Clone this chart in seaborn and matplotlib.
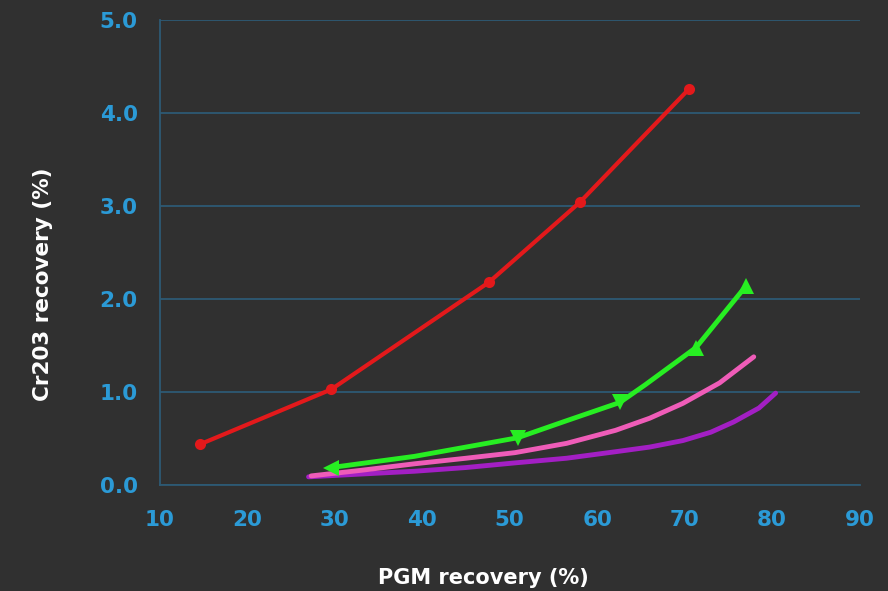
import numpy as np
import pandas as pd
import matplotlib
matplotlib.use("Agg")
import matplotlib.pyplot as plt
import seaborn as sns

# values
red_x = [14.6, 29.6, 47.6, 58.0, 70.5]
red_y = [0.44, 1.03, 2.18, 3.04, 4.26]

green_x = [29.6, 39.1, 50.9, 56.4, 62.6, 65.5, 71.3, 77.0]
green_y = [0.19, 0.31, 0.51, 0.69, 0.89, 1.08, 1.48, 2.14]
green_mark_x = [29.6, 50.9, 62.6, 71.3, 77.0]
green_mark_y = [0.19, 0.51, 0.89, 1.48, 2.14]
green_marks = ['<', 'v', 'v', '^', '^']

pink_x = [27.3, 33.0, 39.1, 45.0, 50.6, 56.5, 62.1, 66.0, 69.8, 74.0, 77.9]
pink_y = [0.10, 0.16, 0.23, 0.29, 0.35, 0.45, 0.59, 0.72, 0.88, 1.10, 1.38]

purple_x = [27.0, 33.0, 39.1, 45.0, 50.6, 56.5, 62.1, 66.0, 69.8, 73.0, 75.6, 78.5, 80.4]
purple_y = [0.09, 0.12, 0.15, 0.19, 0.24, 0.29, 0.36, 0.41, 0.48, 0.57, 0.68, 0.83, 0.99]

x_ticks = [10, 20, 30, 40, 50, 60, 70, 80, 90]
y_ticks = [0.0, 1.0, 2.0, 3.0, 4.0, 5.0]

bg = '#303030'
tick_blue = '#2b9ad6'
grid_blue = '#2d5a74'

sns.set_style("dark")
plt.rcParams['font.family'] = ['DejaVu Sans']

fig = plt.figure(figsize=(8.88, 5.91), dpi=100, facecolor=bg)
ax = fig.add_axes([0.180, 0.179, 0.788, 0.787])
ax.set_facecolor(bg)

sns.lineplot(x=red_x, y=red_y, ax=ax, color='#e3191b', linewidth=3, sort=False,
             marker='o', markersize=8, markeredgewidth=0)
sns.lineplot(x=purple_x, y=purple_y, ax=ax, color='#a31fc4', linewidth=3.5, sort=False)
sns.lineplot(x=pink_x, y=pink_y, ax=ax, color='#ef5cb8', linewidth=3.5, sort=False)
sns.lineplot(x=green_x, y=green_y, ax=ax, color='#27ee22', linewidth=3.5, sort=False)
for mx, my, mk in zip(green_mark_x, green_mark_y, green_marks):
    ax.plot(mx, my, marker=mk, color='#27ee22', markersize=12, markeredgewidth=0)

ax.set_xlim(10, 90)
ax.set_ylim(0, 5)
ax.set_xticks(x_ticks)
ax.set_yticks(y_ticks)
ax.set_xticklabels([str(t) for t in x_ticks])
ax.set_yticklabels([f"{t:.1f}" for t in y_ticks])

ax.grid(False)
ax.yaxis.grid(True, color=grid_blue, linewidth=1.3)
for s in ['top', 'right']:
    ax.spines[s].set_visible(False)
for s in ['left', 'bottom']:
    ax.spines[s].set_visible(True)
    ax.spines[s].set_color(grid_blue)
    ax.spines[s].set_linewidth(1.3)

ax.tick_params(axis='x', colors=grid_blue, length=6, width=1.2, pad=12,
               labelcolor=tick_blue, labelsize=15.5)
ax.tick_params(axis='y', colors=grid_blue, length=6, width=1.2, pad=10,
               labelcolor=tick_blue, labelsize=15.5)
for lab in ax.get_xticklabels() + ax.get_yticklabels():
    lab.set_fontweight('bold')

ax.set_xlabel('PGM recovery (%)', color='white', fontsize=15, fontweight='bold')
ax.set_ylabel('Cr203 recovery (%)', color='white', fontsize=15.5, fontweight='bold')
ax.xaxis.set_label_coords(0.462, -0.177)
ax.yaxis.set_label_coords(-0.152, 0.433)

fig.savefig('out.png', dpi=100, facecolor=bg)
